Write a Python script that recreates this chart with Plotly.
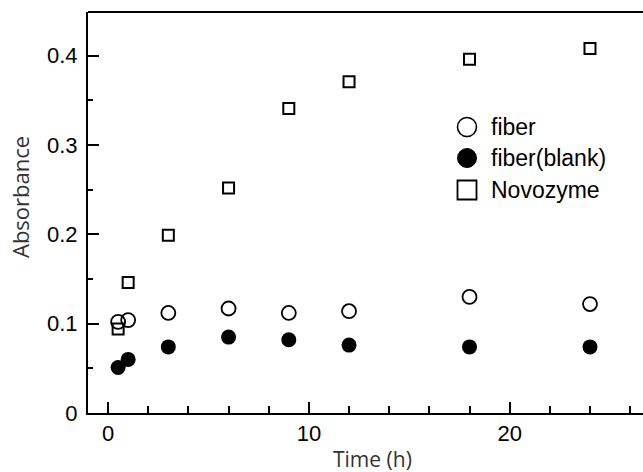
import plotly.graph_objects as go

time_h = [0.5, 1, 3, 6, 9, 12, 18, 24]
fiber = [0.102, 0.104, 0.112, 0.117, 0.112, 0.114, 0.130, 0.122]
fiber_blank = [0.051, 0.060, 0.074, 0.085, 0.082, 0.076, 0.074, 0.074]
novozyme = [0.094, 0.146, 0.199, 0.252, 0.341, 0.371, 0.396, 0.408]

x_ticks = [0, 10, 20]
y_ticks = [0, 0.1, 0.2, 0.3, 0.4]
y_tick_labels = ["0", "0.1", "0.2", "0.3", "0.4"]

series_names = ["fiber", "fiber(blank)", "Novozyme"]

W, H = 643, 472
ML, MR, MT, MB = 88, 0, 12, 59
PW, PH = W - ML - MR, H - MT - MB


def px_x(p):
    return (p - ML) / PW


def px_y(p):
    return (H - MB - p) / PH


tick_font = dict(family="Liberation Sans, Arial, sans-serif", size=22, color="black")
title_font = dict(family="Open Sans, Lato, sans-serif", size=22, color="#333333")

fig = go.Figure()
fig.add_trace(go.Scatter(
    x=time_h, y=fiber, mode="markers", name=series_names[0],
    marker=dict(symbol="circle-open", size=14, color="black", line=dict(width=1.8, color="black")),
))
fig.add_trace(go.Scatter(
    x=time_h, y=fiber_blank, mode="markers", name=series_names[1],
    marker=dict(symbol="circle", size=15, color="black"),
))
fig.add_trace(go.Scatter(
    x=time_h, y=novozyme, mode="markers", name=series_names[2],
    marker=dict(symbol="square-open", size=11, color="black", line=dict(width=2, color="black")),
))

fig.update_layout(
    width=W, height=H,
    margin=dict(l=ML, r=MR, t=MT, b=MB),
    paper_bgcolor="white", plot_bgcolor="white",
    showlegend=False,
)
fig.update_xaxes(
    range=[-1.0, 26.64], showline=True, linecolor="black", linewidth=2, mirror=False,
    tickmode="array", tickvals=x_ticks, ticks="inside", ticklen=11, tickwidth=2, tickcolor="black",
    minor=dict(dtick=2, ticks="inside", ticklen=7, tickwidth=1.5, tickcolor="black", showgrid=False),
    showgrid=False, zeroline=False, tickfont=tick_font, ticklabelstandoff=0,
    automargin=False,
)
fig.update_yaxes(
    range=[0, 0.449], showline=True, linecolor="black", linewidth=2,
    tickmode="array", tickvals=y_ticks, ticktext=y_tick_labels,
    ticks="inside", ticklen=11, tickwidth=2, tickcolor="black",
    minor=dict(dtick=0.05, ticks="inside", ticklen=5, tickwidth=1.5, tickcolor="black", showgrid=False),
    showgrid=False, zeroline=False, tickfont=tick_font, ticklabelstandoff=4,
    automargin=False,
)
# top frame line
fig.add_shape(type="line", xref="paper", yref="paper", x0=0, x1=1, y0=1, y1=1,
              line=dict(color="black", width=2))

# axis titles
fig.add_annotation(text="Time (h)", xref="paper", yref="paper", x=px_x(372), y=px_y(459),
                   xanchor="center", yanchor="middle", showarrow=False,
                   font=dict(family="Open Sans, Lato, sans-serif", size=21, color="#333333"))
fig.add_annotation(text="Absorbance", xref="paper", yref="paper", x=px_x(20), y=px_y(197),
                   xanchor="center", yanchor="middle", showarrow=False, font=title_font,
                   textangle=-90)

# legend (drawn manually to match the larger key symbols)
leg_cx, leg_text_x = 467, 491
leg_rows = [127, 158, 190]
r = 9.5
# open circle
fig.add_shape(type="circle", xref="paper", yref="paper",
              x0=px_x(leg_cx - r), x1=px_x(leg_cx + r), y0=px_y(leg_rows[0] + r), y1=px_y(leg_rows[0] - r),
              line=dict(color="black", width=1.6), fillcolor="white")
# filled circle
fig.add_shape(type="circle", xref="paper", yref="paper",
              x0=px_x(leg_cx - r), x1=px_x(leg_cx + r), y0=px_y(leg_rows[1] + r), y1=px_y(leg_rows[1] - r),
              line=dict(color="black", width=1), fillcolor="black")
# open square
fig.add_shape(type="rect", xref="paper", yref="paper",
              x0=px_x(leg_cx - r), x1=px_x(leg_cx + r), y0=px_y(leg_rows[2] + r), y1=px_y(leg_rows[2] - r),
              line=dict(color="black", width=1.8), fillcolor="white")
for name, row in zip(series_names, leg_rows):
    fig.add_annotation(text=name, xref="paper", yref="paper", x=px_x(leg_text_x), y=px_y(row),
                       xanchor="left", yanchor="middle", showarrow=False, xshift=-2,
                       font=dict(family="Liberation Sans, Arial, sans-serif", size=23, color="black"))

fig.write_html(
    "out.html",
    config={"displayModeBar": False},
    post_script="document.body.style.margin='0';document.body.style.overflow='hidden';",
)
